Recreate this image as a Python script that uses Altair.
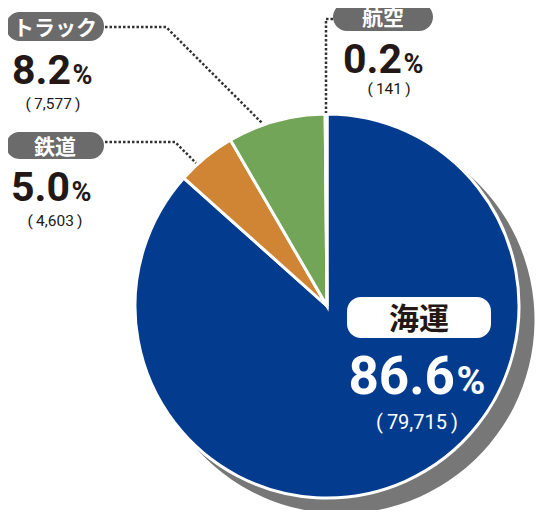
import altair as alt
import pandas as pd

# ---- data ----
categories = ["海運", "鉄道", "トラック", "航空"]
values = [79715, 4603, 7577, 141]
percents = ["86.6", "5.0", "8.2", "0.2"]
counts = ["(\u200979,715\u2009)", "(\u20094,603\u2009)", "(\u20097,577\u2009)", "(\u2009141\u2009)"]

# ---- styling ----
slice_colors = ["#033C8F", "#D08535", "#73A558", "#9BBFE0"]
W, H = 531, 502
OFF = 8  # page margin; layout below is in page pixels
CX, CY, R = 327, 306, 192
SHX, SHY = 14, 14
JP = "Noto Sans CJK JP"
NUM = "Roboto"
DARK = "#231815"

pie_df = pd.DataFrame({"cat": categories, "v": values, "idx": list(range(len(categories)))})

# label layout (page pixels) per category
layout = {
    "海運":   dict(px1=347, px2=491, py1=297, py2=338, pfill="#ffffff", ptxt=DARK, pfs=30,
                 nx=455, ny=394, nfs=53, pfs2=39, ncol="#ffffff", cx=417, cy=429, cfs=20),
    "鉄道":   dict(px1=6, px2=104, py1=132, py2=159, pfill="#6B6B6B", ptxt="#ffffff", pfs=21,
                 nx=70, ny=201, nfs=41, pfs2=27, ncol=DARK, cx=55, cy=226, cfs=15.5),
    "トラック": dict(px1=6, px2=104, py1=12, py2=41, pfill="#6B6B6B", ptxt="#ffffff", pfs=21,
                 nx=71, ny=84, nfs=41, pfs2=27, ncol=DARK, cx=53, cy=109, cfs=15.5),
    "航空":   dict(px1=333, px2=433, py1=3, py2=31, pfill="#6B6B6B", ptxt="#ffffff", pfs=21,
                 nx=402, ny=73, nfs=41, pfs2=27, ncol=DARK, cx=389, cy=94, cfs=15.5),
}
rows = []
for c, p, n in zip(categories, percents, counts):
    d = dict(layout[c])
    d.update(cat=c, pct=p, cnt=n, pmid_x=(d["px1"] + d["px2"]) / 2, pmid_y=(d["py1"] + d["py2"]) / 2)
    rows.append(d)
lab = pd.DataFrame(rows)

connectors = pd.DataFrame({
    "conn": ["トラック"] * 3 + ["鉄道"] * 3 + ["航空"] * 3,
    "seq": [0, 1, 2] * 3,
    "lx": [105, 166, 262, 105, 175, 196, 333, 326, 326],
    "ly": [27, 27, 123, 142, 142, 163, 19, 19, 113],
})

xs = alt.Scale(domain=[OFF, OFF + W], range=[0, W])
ys = alt.Scale(domain=[OFF, OFF + H], range=[0, H])

shadow = alt.Chart(pie_df).mark_arc(radius=R + 1.5, color="#777777").encode(
    theta=alt.Theta("v:Q", stack=True),
    order=alt.Order("idx:Q"),
    x=alt.value(CX - OFF + SHX), y=alt.value(CY - OFF + SHY),
)

pie = alt.Chart(pie_df).mark_arc(radius=R, stroke="white", strokeWidth=3).encode(
    theta=alt.Theta("v:Q", stack=True),
    order=alt.Order("idx:Q"),
    color=alt.Color("cat:N", scale=alt.Scale(domain=categories, range=slice_colors), legend=None),
    x=alt.value(CX - OFF), y=alt.value(CY - OFF),
)

lines = alt.Chart(connectors).mark_line(strokeDash=[2.5, 2], strokeWidth=2.5, color="#333333").encode(
    x=alt.X("lx:Q", scale=xs, axis=None),
    y=alt.Y("ly:Q", scale=ys, axis=None),
    detail="conn:N",
    order="seq:Q",
)

base = alt.Chart(lab)

pills = base.mark_rect(cornerRadius=14).encode(
    x=alt.X("px1:Q", scale=xs, axis=None), x2="px2:Q",
    y=alt.Y("py1:Q", scale=ys, axis=None), y2="py2:Q",
    fill=alt.Fill("pfill:N", scale=None),
)

pill_text = base.mark_text(font=JP, fontWeight="bold", baseline="middle", align="center", dy=2).encode(
    x=alt.X("pmid_x:Q", scale=xs, axis=None),
    y=alt.Y("pmid_y:Q", scale=ys, axis=None),
    text="cat:N",
    size=alt.Size("pfs:Q", scale=None),
    color=alt.Color("ptxt:N", scale=None),
)

num_text = base.mark_text(font=NUM, fontWeight="bold", baseline="alphabetic", align="right").encode(
    x=alt.X("nx:Q", scale=xs, axis=None),
    y=alt.Y("ny:Q", scale=ys, axis=None),
    text="pct:N",
    size=alt.Size("nfs:Q", scale=None),
    color=alt.Color("ncol:N", scale=None),
)

pct_text = base.mark_text(font=NUM, fontWeight="bold", baseline="alphabetic", align="left", dx=1.5).encode(
    x=alt.X("nx:Q", scale=xs, axis=None),
    y=alt.Y("ny:Q", scale=ys, axis=None),
    text=alt.value("%"),
    size=alt.Size("pfs2:Q", scale=None),
    color=alt.Color("ncol:N", scale=None),
)

cnt_text = base.mark_text(font=NUM, baseline="alphabetic", align="center").encode(
    x=alt.X("cx:Q", scale=xs, axis=None),
    y=alt.Y("cy:Q", scale=ys, axis=None),
    text="cnt:N",
    size=alt.Size("cfs:Q", scale=None),
    color=alt.Color("ncol:N", scale=None),
)

chart = alt.layer(shadow, pie, lines, pills, pill_text, num_text, pct_text, cnt_text).properties(
    width=W, height=H, autosize=alt.AutoSizeParams(type="none"), padding=0,
).configure_view(stroke=None).resolve_scale(color="independent", size="independent")

chart.save("out.html", embed_options={"renderer": "svg", "actions": False})
